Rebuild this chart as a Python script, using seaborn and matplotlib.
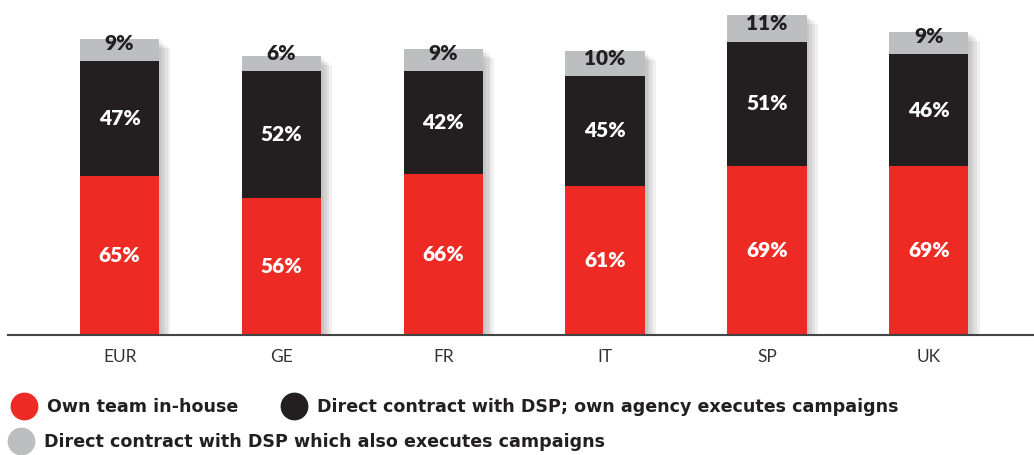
import pandas as pd
import matplotlib.pyplot as plt
import matplotlib.patheffects as pe
from matplotlib.lines import Line2D
import seaborn as sns

# Données
regions = ["EUR", "GE", "FR", "IT", "SP", "UK"]
own_team = [65, 56, 66, 61, 69, 69]
dsp_own_agency = [47, 52, 42, 45, 51, 46]
dsp_executes = [9, 6, 9, 10, 11, 9]

RED = "#ee2a24"
BLACK = "#231f20"
GREY = "#bcbec0"

df = pd.DataFrame({"region": regions, "own": own_team,
                   "agency": dsp_own_agency, "dsp": dsp_executes})
df["cum_agency"] = df["own"] + df["agency"]
df["cum_dsp"] = df["cum_agency"] + df["dsp"]

sns.set_style("white")
plt.rcParams["font.family"] = ["Lato", "DejaVu Sans"]

fig = plt.figure(figsize=(10.34, 4.55), dpi=100)
ax = fig.add_axes([0.0077, 0.2637, 0.9923, 0.7363])

# ombre floue approximée par plusieurs ombres décalées
shadow = [pe.SimplePatchShadow(offset=(o, -o * 0.8), shadow_rgbFace="#000000", alpha=0.06)
          for o in (2, 4, 6, 8)] + [pe.Normal()]

# barres empilées : on dessine les cumuls de l'arrière vers l'avant
for col, color in [("cum_dsp", GREY), ("cum_agency", BLACK), ("own", RED)]:
    sns.barplot(data=df, x="region", y=col, color=color, width=0.49,
                saturation=1, ax=ax, linewidth=0)

for bar in ax.patches[:len(regions)]:
    bar.set_path_effects(shadow)

# étiquettes
lab = dict(ha="center", va="center", fontsize=15, fontweight="heavy")
for i, row in df.iterrows():
    ax.text(i, row["own"] / 2, f"{row['own']}%", color="white", **lab)
    ax.text(i, row["own"] + row["agency"] / 2, f"{row['agency']}%", color="white", **lab)
    ax.text(i, row["cum_agency"] + 7.2, f"{row['dsp']}%", color=BLACK, **lab)

ax.set_xlim(-0.69, 5.65)
ax.set_ylim(0, 137)
ax.set_xlabel("")
ax.set_ylabel("")
ax.set_yticks([])
for s in ["top", "right", "left"]:
    ax.spines[s].set_visible(False)
ax.spines["bottom"].set_color("#444444")
ax.spines["bottom"].set_linewidth(1.5)
ax.tick_params(axis="x", length=0, pad=10, labelsize=12.5, labelcolor="#333333")

# légende
def handle(c):
    return Line2D([], [], marker="o", linestyle="", markersize=19,
                  markerfacecolor=c, markeredgecolor=c)

leg_kw = dict(frameon=False, handletextpad=0.75,
              prop={"weight": "bold", "size": 12.6, "family": "DejaVu Sans"},
              labelcolor=BLACK, borderaxespad=0, handlelength=1.2)
fig.legend([handle(RED), handle(BLACK)],
           ["Own team in-house", "Direct contract with DSP; own agency executes campaigns"],
           loc="center left", bbox_to_anchor=(0.006, 0.105), ncol=2,
           columnspacing=2.55, **leg_kw)
fig.legend([handle(GREY)], ["Direct contract with DSP which also executes campaigns"],
           loc="center left", bbox_to_anchor=(0.003, 0.029), **leg_kw)

plt.savefig("out.png", dpi=100)
